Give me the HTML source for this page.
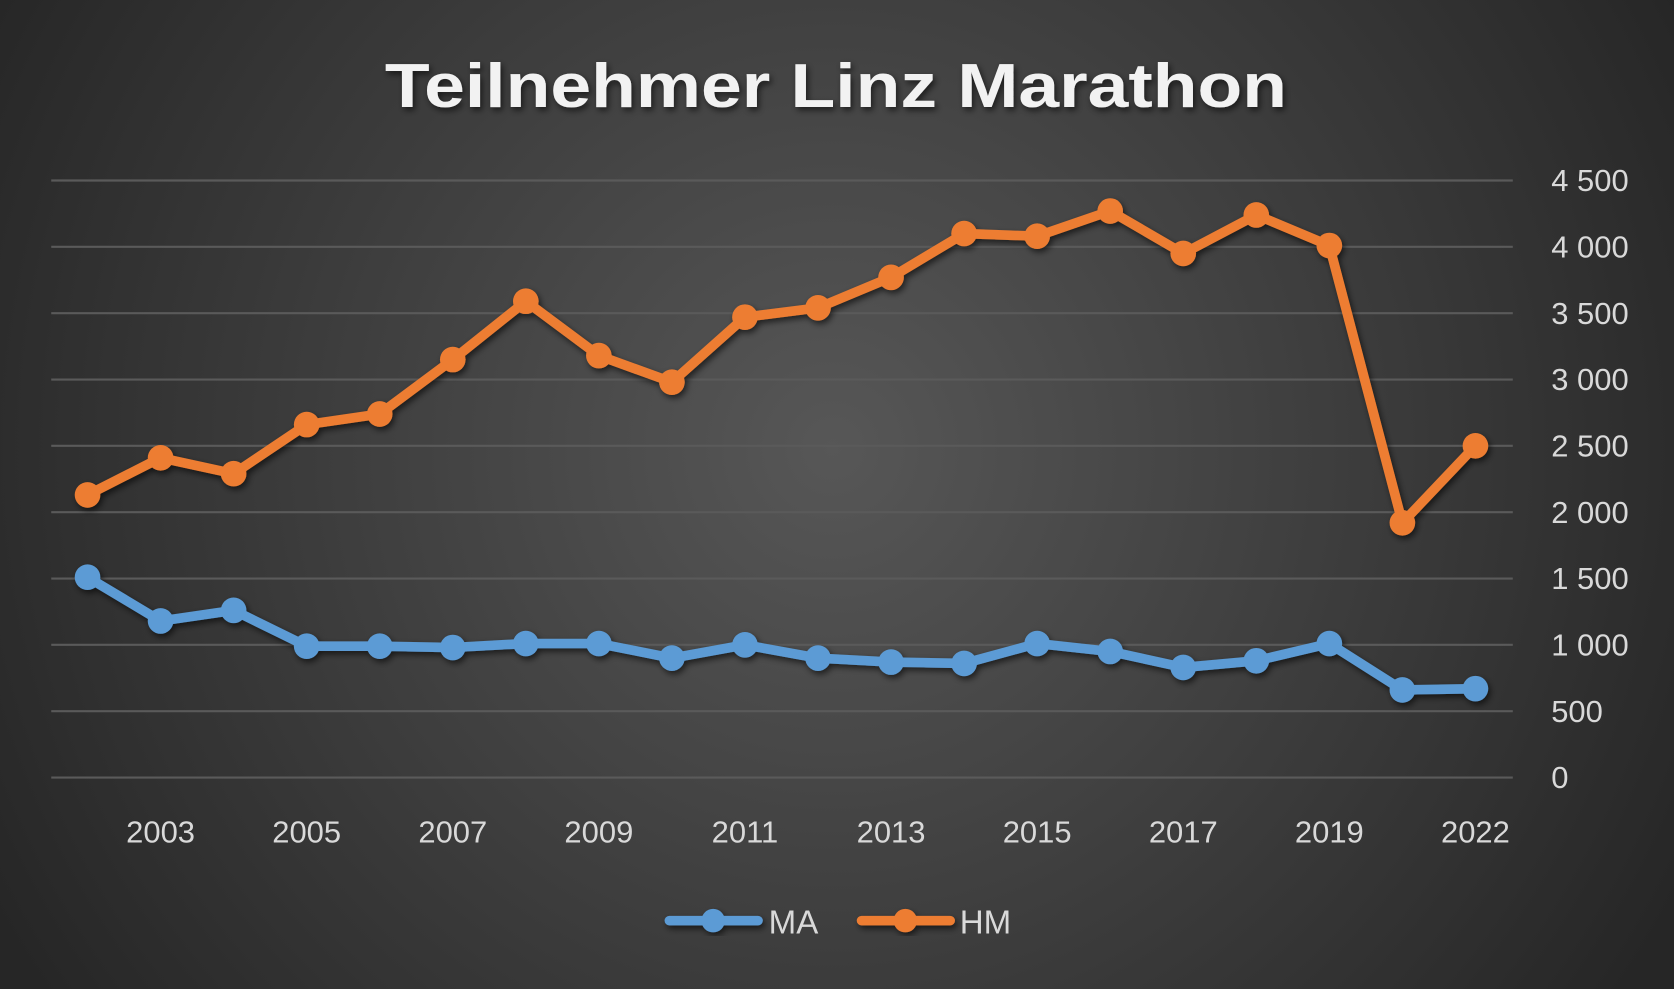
<!DOCTYPE html>
<html><head><meta charset="utf-8"><style>
html,body{margin:0;padding:0;background:#333;}
svg{display:block;}
</style></head><body>
<svg width="1674" height="989" viewBox="0 0 1568 926" preserveAspectRatio="none" xmlns="http://www.w3.org/2000/svg">
<defs>
<radialGradient id="bg" cx="780" cy="420" r="900" gradientUnits="userSpaceOnUse">
<stop offset="0" stop-color="#575757"/>
<stop offset="1" stop-color="#262626"/>
</radialGradient>
<filter id="sh" x="-5%" y="-5%" width="110%" height="120%"><feDropShadow dx="2" dy="3" stdDeviation="3" flood-color="#000" flood-opacity="0.6"/></filter>
</defs>
<rect width="1568" height="926" fill="url(#bg)"/>
<text x="783" y="100" text-anchor="middle" font-family="Liberation Sans, sans-serif" font-weight="bold" font-size="58" fill="#f2f2f2" textLength="845" lengthAdjust="spacingAndGlyphs" filter="url(#sh)">Teilnehmer Linz Marathon</text>
<g id="grid" stroke="#5a5a5a" stroke-width="2"></g>
<g id="ylab" font-family="Liberation Sans, sans-serif" font-size="29" fill="#d9d9d9"></g>
<g id="xlab" font-family="Liberation Sans, sans-serif" font-size="29" fill="#d9d9d9" text-anchor="middle"></g>
<g id="series" filter="url(#sh)"></g>
<g filter="url(#sh)">
<line x1="627" y1="862" x2="710" y2="862" stroke="#5b9bd5" stroke-width="9" stroke-linecap="round"/>
<circle cx="668" cy="862" r="11" fill="#5b9bd5"/>
<line x1="807" y1="862" x2="890" y2="862" stroke="#ed7d31" stroke-width="9" stroke-linecap="round"/>
<circle cx="848" cy="862" r="11" fill="#ed7d31"/>
</g>
<text x="720" y="874" font-family="Liberation Sans, sans-serif" font-size="31" fill="#d9d9d9">MA</text>
<text x="899" y="874" font-family="Liberation Sans, sans-serif" font-size="31" fill="#d9d9d9">HM</text>
</svg>
<script>
const NS="http://www.w3.org/2000/svg";
function el(p,t,a,txt){const e=document.createElementNS(NS,t);for(const k in a)e.setAttribute(k,a[k]);if(txt!==undefined)e.textContent=txt;document.getElementById(p).appendChild(e);return e;}
const Y=v=>728-v*559/4500;
const X=i=>82+i*(1300/19);
const labs=["0","500","1 000","1 500","2 000","2 500","3 000","3 500","4 000","4 500"];
for(let k=0;k<=9;k++){const y=Y(k*500);el("grid","line",{x1:48,x2:1417,y1:y,y2:y});el("ylab","text",{x:1453,y:y+10},labs[k]);}
const years=[2002,2003,2004,2005,2006,2007,2008,2009,2010,2011,2012,2013,2014,2015,2016,2017,2018,2019,2020,2022];
years.forEach((yr,i)=>{if(i%2==1)el("xlab","text",{x:X(i),y:789},String(yr));});
const HM=[2130,2410,2290,2660,2740,3150,3590,3180,2980,3470,3540,3770,4100,4080,4270,3950,4240,4010,1920,2500];
const MA=[1510,1180,1260,990,990,980,1010,1010,900,1000,900,870,860,1010,950,830,880,1010,660,670];
[[MA,"#5b9bd5"],[HM,"#ed7d31"]].forEach(([d,c])=>{
el("series","polyline",{points:d.map((v,i)=>X(i)+","+Y(v)).join(" "),fill:"none",stroke:c,"stroke-width":9,"stroke-linejoin":"round"});
d.forEach((v,i)=>el("series","circle",{cx:X(i),cy:Y(v),r:12,fill:c}));
});
</script>
</body></html>
